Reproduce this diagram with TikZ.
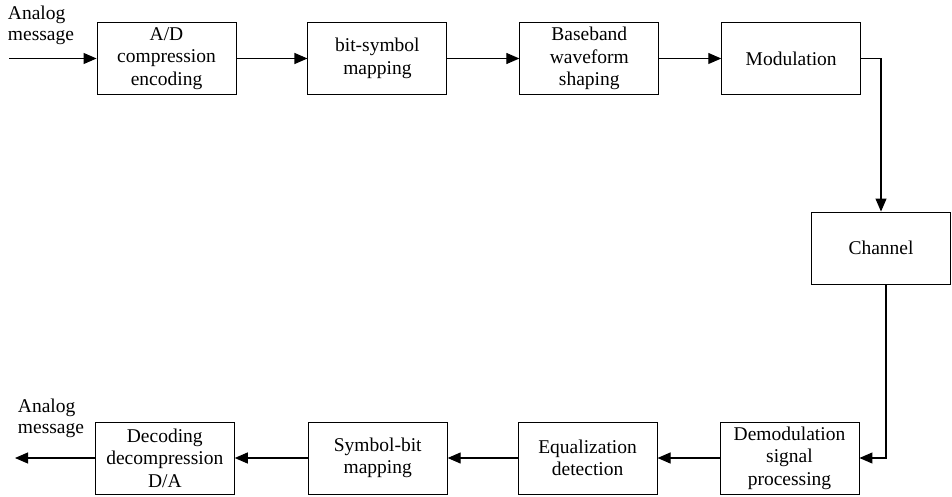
\documentclass[tikz,border=0pt]{standalone}
\usepackage{fontspec}
\setmainfont{Liberation Serif}
\usepackage{tikz}
\usetikzlibrary{arrows.meta}
\usetikzlibrary{positioning}
\tikzset{
  blockbox/.style={rectangle,draw=black,line width=0.9pt,minimum width=139pt,minimum height=72pt,
    inner sep=1pt,align=center,font=\rmfamily\fontsize{19.5}{22.5}\selectfont},
  msglabel/.style={align=left,inner sep=0pt,font=\rmfamily\fontsize{19.5}{21}\selectfont},
  flow/.style={line width=1.1pt,-{Triangle[length=13pt,width=11pt]}}
}
\begin{document}
\begin{tikzpicture}[x=1pt,y=1pt]
\useasboundingbox (0,0) rectangle (952,496);
% transmitter chain
\node[blockbox](ad) at (166.5,437.5){A/D\\compression\\encoding};
\node[blockbox,right=71pt of ad](bs){bit-symbol\\mapping};
\node[blockbox,right=72pt of bs](bb){Baseband\\waveform\\shaping};
\node[blockbox,right=62pt of bb](mod){Modulation};
\node[blockbox](ch) at (881,248){Channel};
% receiver chain
\node[blockbox](dem) at (789.5,38){Demodulation\\signal\\processing};
\node[blockbox,left=62pt of dem](eq){Equalization\\detection};
\node[blockbox,left=70pt of eq](sb){Symbol-bit\\mapping};
\node[blockbox,left=73pt of sb](dec){Decoding\\decompression\\D/A};
% end points
\coordinate (in) at (9,437.5);
\coordinate (out) at (15,38);
\node[msglabel](inlab) at (41,471){Analog\\message};
\node[msglabel](outlab) at (51,78){Analog\\message};
% connectors
\draw[flow] (in) -- (ad);
\draw[flow] (ad) -- (bs);
\draw[flow] (bs) -- (bb);
\draw[flow] (bb) -- (mod);
\draw[flow] (mod.east) -| (ch.north);
\draw[flow] ([xshift=5pt]ch.south) |- (dem.east);
\draw[flow] (dem) -- (eq);
\draw[flow] (eq) -- (sb);
\draw[flow] (sb) -- (dec);
\draw[flow] (dec) -- (out);
\end{tikzpicture}
\end{document}
